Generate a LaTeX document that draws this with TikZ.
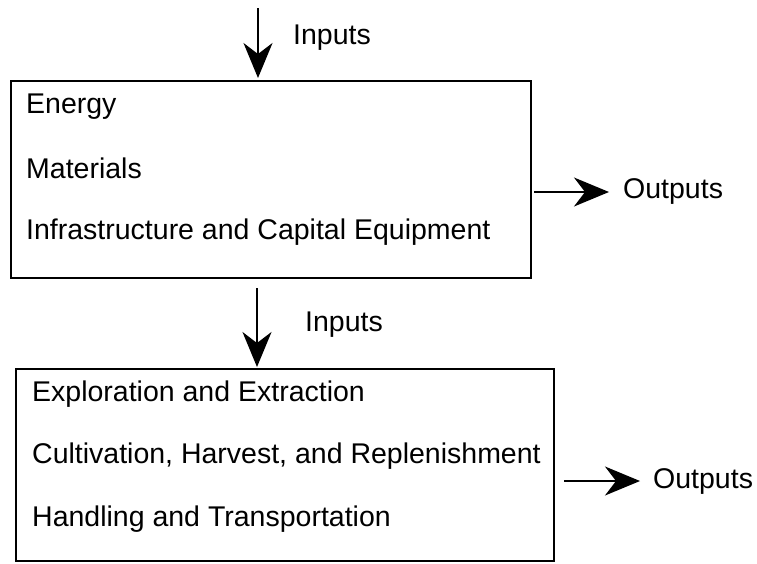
\documentclass[tikz,border=0pt]{standalone}
\usepackage{fontspec}
\setmainfont{Liberation Sans}
\usetikzlibrary{arrows.meta}
\begin{document}
\begin{tikzpicture}[x=1pt,y=-1pt,
  lbl/.style={font=\fontsize{28.5}{32}\selectfont, inner sep=0pt, anchor=west},
  boxln/.style={draw, line width=2.2pt},
  arr/.style={line width=1.7pt, -{Stealth[length=35pt,width=29pt,inset=11pt]}}]
\useasboundingbox (0,0) rectangle (757,563);
% boxes
\node[boxln, minimum width=520pt, minimum height=197pt, anchor=north west, inner sep=0pt] (b1) at (10,80) {};
\node[boxln, minimum width=538pt, minimum height=192pt, anchor=north west, inner sep=0pt] (b2) at (15,368) {};
% box texts
\node[lbl] (t1) at (26,107) {Energy};
\node[lbl] (t2) at (26,168) {Materials};
\node[lbl] (t3) at (26,232) {Infrastructure and Capital Equipment};
\node[lbl] (u1) at (32,394) {Exploration and Extraction};
\node[lbl] (u2) at (32,456) {Cultivation, Harvest, and Replenishment};
\node[lbl] (u3) at (32,519) {Handling and Transportation};
% inputs
\coordinate (i1s) at (258,8);
\coordinate (i1e) at (258,78);
\draw[arr] (i1s) -- (i1e);
\node[lbl] (in1) at (293,38) {Inputs};
\coordinate (i2s) at (257,288);
\coordinate (i2e) at (257,367);
\draw[arr] (i2s) -- (i2e);
\node[lbl] (in2) at (305,325) {Inputs};
% outputs
\coordinate (o1s) at (534,192);
\coordinate (o1e) at (609,192);
\draw[arr] (o1s) -- (o1e);
\node[lbl] (out1) at (623,192) {Outputs};
\coordinate (o2s) at (564,481);
\coordinate (o2e) at (640,481);
\draw[arr] (o2s) -- (o2e);
\node[lbl] (out2) at (653,481) {Outputs};
\end{tikzpicture}
\end{document}
